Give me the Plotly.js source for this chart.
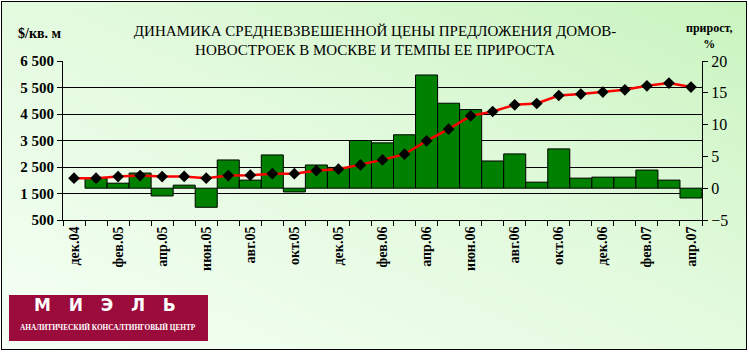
<!DOCTYPE html>
<html>
<head>
<meta charset="utf-8">
<script src="https://cdn.plot.ly/plotly-3.0.1.min.js"></script>
<style>
  html, body { margin: 0; padding: 0; background: #ffffff; }
  #frame {
    position: absolute; left: 1px; top: 1px; width: 744px; height: 347px;
    border: 1px solid #000;
    background: linear-gradient(205deg, #c9f4bf 0%, #e2fadd 45%, #f5fff5 100%);
  }
  #chart { position: absolute; left: 0; top: 0; width: 749px; height: 352px; }
</style>
</head>
<body>
<div id="frame"></div>
<div id="chart"></div>
<script>
// Months (categories)
const months = [
  'дек.04',
  'янв.05','фев.05','мар.05','апр.05','май.05','июн.05','июл.05','авг.05','сен.05','окт.05','ноя.05','дек.05',
  'янв.06','фев.06','мар.06','апр.06','май.06','июн.06','июл.06','авг.06','сен.06','окт.06','ноя.06','дек.06',
  'янв.07','фев.07','мар.07','апр.07'
];
// Weighted average offer price, $/кв. м (left axis)
const price = [
  2077,
  2077, 2137, 2175, 2137, 2145, 2077, 2175, 2190, 2250, 2250, 2364, 2417,
  2579, 2768, 2983, 3486, 3928, 4431, 4594, 4847, 4896, 5199, 5251, 5327,
  5414, 5565, 5667, 5516
];
// Monthly growth, % (right axis)
const growth = [
  null,
  1.58, 0.79, 2.38, -1.22, 0.48, -3.0, 4.44, 1.27, 5.23, -0.59, 3.65, 3.27,
  7.5, 7.13, 8.4, 17.8, 13.36, 12.36, 4.28, 5.39, 0.95, 6.18, 1.58, 1.74,
  1.74, 2.85, 1.27, -1.54
];
const tickText = months.map((m, i) => (i % 2 === 0 ? m : ''));

const serif = 'Liberation Serif, Times New Roman, serif';
const nb = '\u00a0\u00a0\u00a0';

const traces = [
  {
    type: 'bar', x: months, y: growth, yaxis: 'y',
    marker: { color: '#008000', line: { color: '#000000', width: 1 } },
    hoverinfo: 'x+y', showlegend: false
  },
  {
    type: 'scatter', mode: 'lines+markers', x: months, y: price, yaxis: 'y2',
    line: { color: '#ff0000', width: 2.5 },
    marker: { symbol: 'diamond', size: 9, color: '#000000' },
    showlegend: false
  }
];

const layout = {
  width: 749, height: 352,
  margin: { l: 63, r: 47, t: 61, b: 132, pad: 0 },
  paper_bgcolor: 'rgba(0,0,0,0)',
  plot_bgcolor: 'rgba(0,0,0,0)',
  separators: ', ',
  bargap: 0,
  font: { family: serif, color: '#000000' },
  title: {
    text: 'ДИНАМИКА СРЕДНЕВЗВЕШЕННОЙ ЦЕНЫ ПРЕДЛОЖЕНИЯ ДОМОВ-<br>НОВОСТРОЕК В МОСКВЕ И ТЕМПЫ ЕЕ ПРИРОСТА',
    x: 0.5007, xref: 'container', xanchor: 'center',
    y: 0.898, yref: 'container', yanchor: 'middle',
    font: { family: serif, size: 15, color: '#000000' }
  },
  xaxis: {
    type: 'category', range: [-0.5, months.length - 0.5], autorange: false,
    tickmode: 'array', tickvals: months, ticktext: tickText,
    tickson: 'boundaries',
    ticks: 'outside', ticklen: 5, tickcolor: '#000000', tickwidth: 1,
    showline: true, linecolor: '#000000', linewidth: 1,
    showgrid: false, zeroline: false,
    tickangle: -90,
    tickfont: { family: serif, size: 14, weight: 'bold', color: '#000000' }
  },
  yaxis: {
    side: 'right', range: [-5, 20], tick0: 0, dtick: 5,
    ticks: 'outside', ticklen: 5, tickcolor: '#000000',
    showline: true, linecolor: '#000000', linewidth: 1,
    showgrid: false, zeroline: false,
    tickfont: { family: serif, size: 16, color: '#000000' }
  },
  yaxis2: {
    overlaying: 'y', side: 'left', anchor: 'x',
    range: [500, 6500], tick0: 500, dtick: 1000, tickformat: ',d',
    ticks: 'outside', ticklen: 5, tickcolor: '#000000',
    showline: true, linecolor: '#000000', linewidth: 1,
    showgrid: true, gridcolor: '#000000', gridwidth: 1, zeroline: false,
    tickfont: { family: serif, size: 15, weight: 'bold', color: '#000000' }
  },
  shapes: [
    { type: 'rect', xref: 'paper', yref: 'paper',
      x0: -0.0845, x1: 0.2269, y0: -0.761, y1: -0.4717,
      fillcolor: '#9b0b3b', line: { width: 0 } }
  ],
  annotations: [
    { text: '$/кв. м', xref: 'paper', yref: 'paper', x: -0.036, y: 1.17,
      showarrow: false, xanchor: 'center', yanchor: 'middle',
      font: { family: serif, size: 14, weight: 'bold', color: '#000000' } },
    { text: 'прирост,<br>%', xref: 'paper', yref: 'paper', x: 1.0125, y: 1.155,
      showarrow: false, xanchor: 'center', yanchor: 'middle',
      font: { family: serif, size: 12, weight: 'bold', color: '#000000' } },
    { text: ['М', 'И', 'Э', 'Л', 'Ь'].join(nb), xref: 'paper', yref: 'paper', x: 0.0657, y: -0.535,
      showarrow: false, xanchor: 'center', yanchor: 'middle',
      font: { family: 'DejaVu Sans, sans-serif', size: 17, weight: 'bold', color: '#ffffff' } },
    { text: 'АНАЛИТИЧЕСКИЙ КОНСАЛТИНГОВЫЙ ЦЕНТР', xref: 'paper', yref: 'paper', x: 0.0704, y: -0.679,
      showarrow: false, xanchor: 'center', yanchor: 'middle',
      font: { family: serif, size: 7.3, weight: 'bold', color: '#ffffff' } }
  ]
};

Plotly.newPlot('chart', traces, layout, { displayModeBar: false, staticPlot: true });
</script>
</body>
</html>
